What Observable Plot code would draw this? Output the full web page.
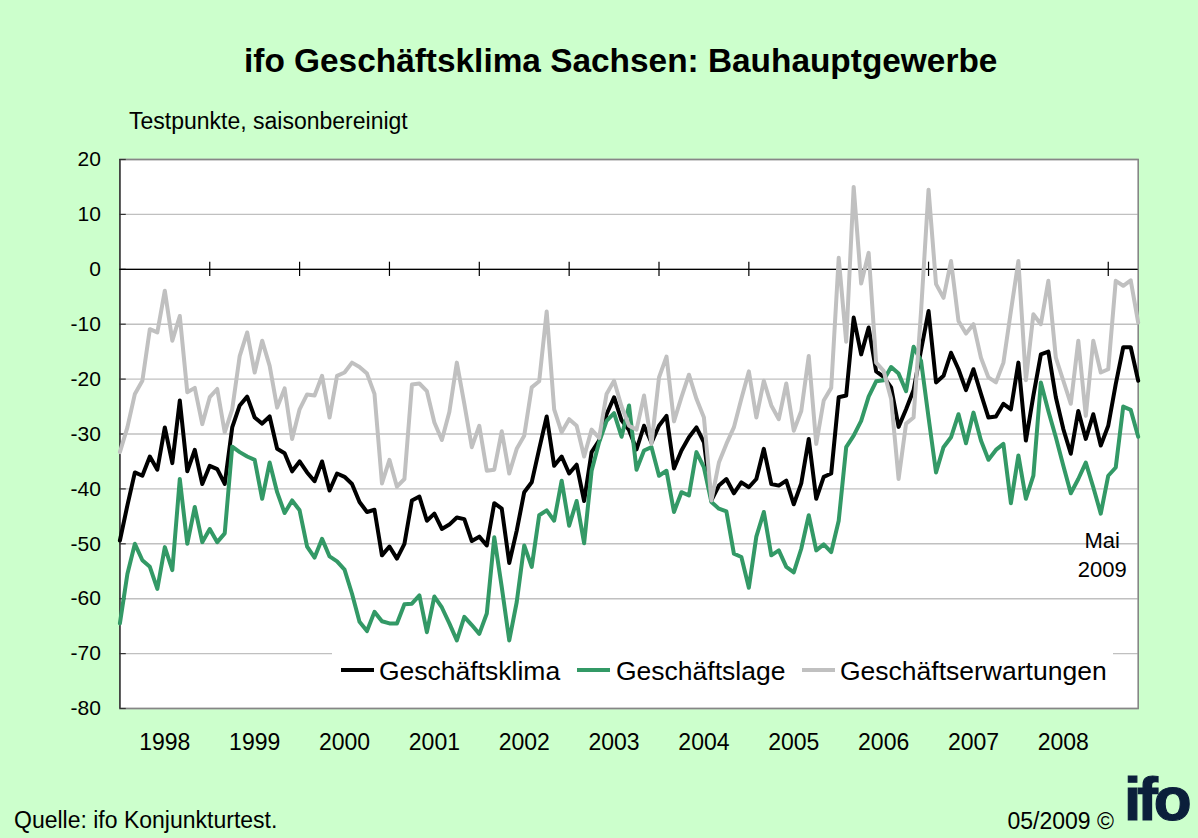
<!DOCTYPE html>
<html>
<head>
<meta charset="utf-8">
<script src="https://cdn.jsdelivr.net/npm/d3@7"></script>
<script src="https://cdn.jsdelivr.net/npm/@observablehq/plot@0.6"></script>
<style>
  html, body { margin: 0; padding: 0; background: #ccffcc; }
  #page { position: relative; width: 1198px; height: 838px; background: #ccffcc; overflow: hidden;
          font-family: "Liberation Sans", Arial, sans-serif; color: #000; }
  .abs { position: absolute; white-space: nowrap; line-height: 1; }
  #title { left: 244px; top: 44px; font-size: 33.4px; font-weight: bold; }
  #subtitle { left: 129px; top: 110px; font-size: 23px; }
  #chart { position: absolute; left: 0; top: 140px; }
  #legend { position: absolute; left: 332px; top: 645px; width: 781px; height: 62px; background: #fff; }
  .swatch { position: absolute; top: 23px; height: 4px; width: 33px; }
  .ltext { position: absolute; top: 13px; font-size: 26.5px; line-height: 1; white-space: nowrap; }
  #source { left: 14px; top: 809px; font-size: 23px; }
  #date { right: 84px; top: 810px; font-size: 23px; }
  #logo { left: 1124px; top: 768px; font-size: 62px; font-weight: bold; color: #0b1f3b;
          letter-spacing: -4px; -webkit-text-stroke: 1.2px #0b1f3b; }
</style>
</head>
<body>
<div id="page">
  <div id="title" class="abs">ifo Geschäftsklima Sachsen: Bauhauptgewerbe</div>
  <div id="subtitle" class="abs">Testpunkte, saisonbereinigt</div>
  <div id="chart"></div>
  <div id="legend"></div>
  <div id="source" class="abs">Quelle: ifo Konjunkturtest.</div>
  <div id="date" class="abs">05/2009 ©</div>
  <div id="logo" class="abs">ifo</div>
</div>
<script>
// ---- Data: monthly, January 1998 to May 2009 ----
const yearLabels = ["1998","1999","2000","2001","2002","2003","2004","2005","2006","2007","2008"];
const yTicks = [20, 10, 0, -10, -20, -30, -40, -50, -60, -70, -80];
const seriesNames = ["Geschäftsklima", "Geschäftslage", "Geschäftserwartungen"];
const seriesColors = ["#000000", "#339966", "#c0c0c0"];
const lastLabel = "Mai\n2009";

const klima = [
  -49.4,-43,-37,-37.6,-34.1,-36.5,-28.8,-35.3,-23.9,-36.8,-32.9,-39.1,
  -35.8,-36.4,-39.1,-28.8,-24.8,-23.2,-27,-28.1,-26.8,-32.7,-33.5,-36.8,
  -35,-37,-38.6,-35,-40.3,-37.2,-37.8,-39.1,-42.4,-44.2,-43.8,-52.1,
  -50.5,-52.7,-50,-42.1,-41.4,-45.8,-44.5,-47.3,-46.5,-45.2,-45.5,-49.5,
  -48.7,-50.3,-42.6,-43.6,-53.5,-47.6,-40.6,-38.8,-32.7,-26.8,-35.8,-34.1,
  -37.2,-35.6,-42.2,-33.3,-31.2,-26.4,-23.3,-27.5,-29.3,-32.8,-28.5,-31.6,
  -28.5,-26.7,-36.3,-33,-30.6,-28.8,-31.5,-42.1,-39.4,-38.2,-40.8,-38.8,
  -39.7,-38.2,-32.7,-39.1,-39.4,-38.5,-42.8,-39,-30.9,-41.8,-37.8,-37.2,
  -23.3,-23,-8.8,-15.5,-10.6,-18.6,-19.6,-21.5,-28.7,-25.5,-22,-14.7,
  -7.6,-20.6,-19.4,-15.2,-18.2,-22,-18.2,-22.7,-27,-26.8,-24.5,-25.5,
  -17,-31.2,-23,-15.5,-15,-23.3,-29.1,-33.6,-25.8,-30.9,-26.4,-32.1,
  -28.5,-20.9,-14.2,-14.2,-20.3
];
const lage = [
  -64.5,-55.5,-50,-53,-54.2,-58.2,-50.6,-54.8,-38.2,-50,-43.3,-49.7,
  -47.3,-49.7,-48.1,-32.3,-33.3,-34.1,-34.7,-41.8,-35.2,-40.6,-44.4,-42.1,
  -43.9,-50.5,-52.5,-49.1,-52.3,-53.2,-54.7,-59.1,-64.2,-65.9,-62.4,-64.1,
  -64.5,-64.5,-61,-60.9,-59.4,-66.1,-59.6,-61.6,-64.5,-67.6,-63.3,-64.8,
  -66.4,-62.7,-48.8,-57.9,-67.6,-60.6,-50.3,-54.2,-44.8,-43.9,-45.8,-38.5,
  -46.7,-42.2,-49.9,-36.7,-31.5,-27.6,-26.2,-30.5,-24.8,-36.5,-33,-32.4,
  -37.6,-36.7,-44.2,-40.6,-41.2,-33.3,-36.1,-42.4,-43.6,-44.1,-51.8,-52.4,
  -58,-48.7,-44.2,-52.1,-51.2,-54.2,-55.2,-50.9,-44.8,-51.2,-50.1,-51.5,
  -45.8,-32.4,-30.3,-27.6,-23.2,-20.4,-20.2,-17.8,-19,-22.2,-14.1,-16.7,
  -27,-37,-32.4,-30.6,-26.4,-31.7,-26.1,-31.2,-34.7,-32.9,-31.8,-42.6,
  -33.9,-41.8,-37.6,-20.6,-25.8,-30.6,-35.8,-40.8,-38.2,-35.2,-39.7,-44.5,
  -37.6,-36.1,-25,-25.6,-30.5
];
const erwartungen = [
  -33.3,-28.8,-22.7,-20.3,-10.9,-11.5,-3.9,-13,-8.5,-22.4,-21.6,-28.2,
  -23.3,-21.8,-29.7,-25.5,-15.8,-11.5,-18.8,-13,-17.6,-25.2,-21.7,-30.9,
  -25.5,-22.8,-23,-19.4,-27,-19.4,-18.8,-17,-17.8,-19,-22.7,-39,
  -34.7,-39.6,-38.2,-21,-20.8,-22.2,-27.9,-31.1,-26,-17,-24.5,-32.4,
  -28.5,-36.7,-36.5,-29.5,-37.2,-32.7,-30.3,-21.5,-20.4,-7.7,-25.5,-29.7,
  -27.3,-28.5,-34.1,-29.2,-30.7,-22.7,-20.3,-25,-28.5,-29.2,-23,-31.8,
  -19.7,-15.9,-27.7,-23.3,-19.2,-23.6,-27,-42.1,-35.2,-31.8,-28.8,-23.6,
  -18.6,-27,-20.3,-24.8,-27.3,-20.8,-29.4,-25.8,-15.8,-31.8,-23.9,-21.6,
  2.1,-13.2,15,-2.6,3,-17,-18.5,-23.6,-38.2,-28.1,-27,-7.6,
  14.5,-2.7,-5.2,1.5,-9.4,-11.7,-10,-16.1,-19.7,-20.6,-17,-7.6,
  1.5,-20.2,-8.2,-10,-2.1,-16.1,-20.3,-24.5,-13,-26.7,-13,-18.8,
  -18.2,-2.1,-3,-2,-9.7
];

// ---- Derived structures ----
const seriesValues = [klima, lage, erwartungen];
const nMonths = klima.length;
const xDomain = [0, nMonths - 1];
const yDomain = [yTicks[yTicks.length - 1], yTicks[0]];
const yearStarts = yearLabels.map((_, k) => k * 12);
const yearMids = yearStarts.map(s => s + 6);
const yearBoundaries = yearLabels.map((_, k) => (k + 1) * 12);
const rowsFor = (vals, name) => vals.map((v, i) => ({ i, v, name }));
const annotation = [{ i: nMonths - 1, v: -51.7, label: lastLabel }];

const chart = Plot.plot({
  width: 1198,
  height: 640,
  marginLeft: 119.4,
  marginRight: 60.3,
  marginTop: 19,
  marginBottom: 72,
  x: { domain: xDomain, axis: null },
  y: { domain: yDomain, axis: null },
  style: { background: "transparent", fontFamily: "'Liberation Sans', Arial, sans-serif", color: "#000", overflow: "visible" },
  marks: [
    Plot.frame({ fill: "#ffffff", stroke: null }),
    Plot.gridY(yTicks, { stroke: "#c0c0c0", strokeOpacity: 1, strokeWidth: 1.4 }),
    Plot.frame({ stroke: "#868686", strokeWidth: 1.6 }),
    Plot.ruleX([xDomain[0]], { stroke: "#333", strokeWidth: 1.4 }),
    Plot.ruleY(yTicks, { x1: xDomain[0], x2: xDomain[0] + 0.85, stroke: "#333", strokeWidth: 1.2 }),
    Plot.ruleY([0], { stroke: "#000", strokeWidth: 1.2 }),
    Plot.ruleX(yearBoundaries, { y1: -1.3, y2: 1.3, stroke: "#000", strokeWidth: 1.2 }),
    ...seriesValues.map((vals, k) => Plot.line(rowsFor(vals, seriesNames[k]), {
      x: "i", y: "v", stroke: seriesColors[k], strokeWidth: 4, strokeLinejoin: "round"
    })),
    Plot.axisY({ ticks: yTicks, tickSize: 0, tickPadding: 19, tickFormat: d => String(d), fontSize: 21, fill: "#000", label: null }),
    Plot.axisX({ ticks: yearMids, tickSize: 0, tickPadding: 25, fontSize: 23, fill: "#000", label: null,
                 tickFormat: t => yearLabels[(t - 6) / 12] }),
    Plot.text(annotation, { x: "i", y: "v", text: "label", dx: -36, fontSize: 22, lineHeight: 1.32, fill: "#000" })
  ]
});
document.getElementById("chart").appendChild(chart);

// ---- Legend (HTML, overlaid inside the plot area) ----
const legend = document.getElementById("legend");
const swatchLeft = [9, 245, 470];
const textLeft = [47, 284, 508];
seriesNames.forEach((name, k) => {
  const sw = document.createElement("div");
  sw.className = "swatch";
  sw.style.left = swatchLeft[k] + "px";
  sw.style.background = seriesColors[k];
  legend.appendChild(sw);
  const tx = document.createElement("div");
  tx.className = "ltext";
  tx.style.left = textLeft[k] + "px";
  tx.textContent = name;
  legend.appendChild(tx);
});
</script>
</body>
</html>
